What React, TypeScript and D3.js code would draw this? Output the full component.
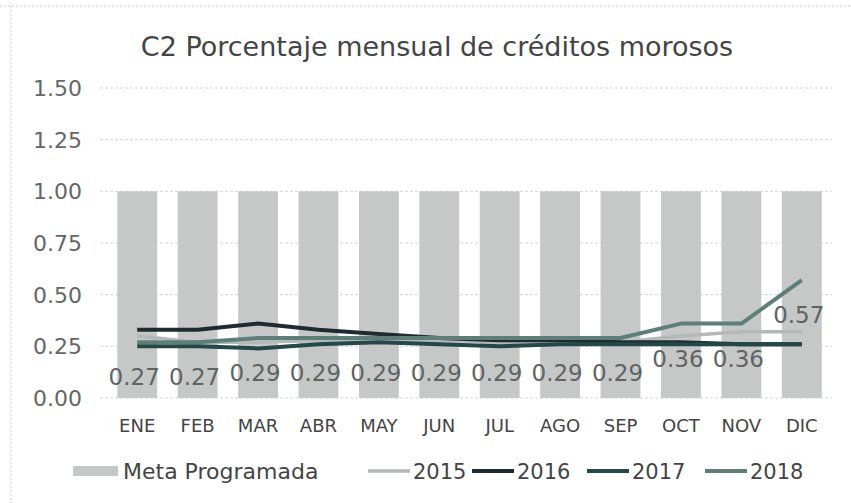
import React from "react";
import * as d3 from "d3";

const months = ["ENE", "FEB", "MAR", "ABR", "MAY", "JUN", "JUL", "AGO", "SEP", "OCT", "NOV", "DIC"];
const meta = [1, 1, 1, 1, 1, 1, 1, 1, 1, 1, 1, 1];
const s2015 = [0.30, 0.27, 0.27, 0.28, 0.28, 0.28, 0.27, 0.27, 0.27, 0.30, 0.32, 0.32];
const s2016 = [0.33, 0.33, 0.36, 0.33, 0.31, 0.29, 0.28, 0.28, 0.27, 0.27, 0.26, 0.26];
const s2017 = [0.25, 0.25, 0.24, 0.26, 0.27, 0.26, 0.25, 0.26, 0.26, 0.26, 0.26, 0.26];
const s2018 = [0.27, 0.27, 0.29, 0.29, 0.29, 0.29, 0.29, 0.29, 0.29, 0.36, 0.36, 0.57];
const yTicks = [0, 0.25, 0.5, 0.75, 1.0, 1.25, 1.5];
const legendLabels = ["Meta Programada", "2015", "2016", "2017", "2018"];

const W = 851;
const H = 503;
const FONT = "'DejaVu Sans', sans-serif";

export default function App() {
  const x = d3.scaleBand<string>().domain(months).range([107, 832]).paddingInner(0.34).paddingOuter(0.17);
  const y = d3.scaleLinear().domain([0, 1.5]).range([398, 88]);
  const cx = (m: string) => (x(m) as number) + x.bandwidth() / 2;
  const line = d3
    .line<number>()
    .x((_, i) => cx(months[i]))
    .y((d) => y(d));

  const series = [
    { name: "2015", data: s2015, color: "#b3b9b7", w: 3.5 },
    { name: "2016", data: s2016, color: "#1f2b33", w: 4 },
    { name: "2017", data: s2017, color: "#24474a", w: 4 },
    { name: "2018", data: s2018, color: "#5d7f77", w: 4 },
  ];

  const legendLineX = [368, 472, 587, 705];
  const legendY = 471;

  return (
    <svg width={W} height={H} style={{ position: "absolute", left: 0, top: 0, background: "#fff" }}>
      <rect x={0} y={0} width={W} height={H} fill="#fff" />
      <line x1={0} x2={W} y1={6} y2={6} stroke="#c8c8c8" strokeDasharray="2,2" />
      <line x1={11} x2={11} y1={6} y2={H} stroke="#d0d0d0" strokeDasharray="2,2" />
      <text x={437} y={56} textAnchor="middle" fontFamily={FONT} fontSize={27} fill="#444">
        C2 Porcentaje mensual de créditos morosos
      </text>
      {yTicks.map((t) => (
        <g key={t}>
          <line x1={100} x2={832} y1={y(t)} y2={y(t)} stroke="#d4d4d4" strokeDasharray="3,2" />
          <text x={82} y={y(t)} dy="0.36em" textAnchor="end" fontFamily={FONT} fontSize={22} fill="#666">
            {t.toFixed(2)}
          </text>
        </g>
      ))}
      {months.map((m, i) => (
        <rect key={m} x={x(m)} y={y(meta[i])} width={x.bandwidth()} height={y(0) - y(meta[i])} fill="#c6c8c8" />
      ))}
      {series.map((s) => (
        <path key={s.name} d={line(s.data) || ""} fill="none" stroke={s.color} strokeWidth={s.w} strokeLinejoin="round" />
      ))}
      {months.map((m, i) => (
        <text key={m} x={cx(m) - 3} y={y(s2018[i]) + 35} dy="0.36em" textAnchor="middle" fontFamily={FONT} fontSize={23} fill="#5f6362">
          {s2018[i].toFixed(2)}
        </text>
      ))}
      {months.map((m) => (
        <text key={m} x={cx(m)} y={426} dy="0.36em" textAnchor="middle" fontFamily={FONT} fontSize={18} fill="#444">
          {m}
        </text>
      ))}
      <g>
        <rect x={73} y={legendY - 5} width={45} height={10} fill="#c6c8c8" />
        <text x={123} y={legendY} dy="0.36em" fontFamily={FONT} fontSize={22} fill="#444">
          {legendLabels[0]}
        </text>
        {series.map((s, i) => (
          <g key={s.name}>
            <line x1={legendLineX[i]} x2={legendLineX[i] + 42} y1={legendY} y2={legendY} stroke={s.color} strokeWidth={s.w} />
            <text x={legendLineX[i] + 45} y={legendY} dy="0.36em" fontFamily={FONT} fontSize={21} fill="#444">
              {legendLabels[i + 1]}
            </text>
          </g>
        ))}
      </g>
    </svg>
  );
}
